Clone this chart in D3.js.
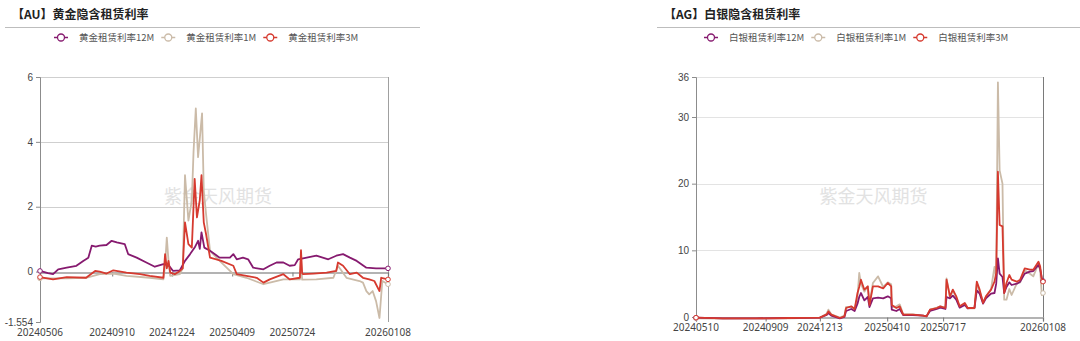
<!DOCTYPE html>
<html>
<head>
<meta charset="utf-8">
<title>隐含租赁利率</title>
<script src="https://cdn.jsdelivr.net/npm/d3@7"></script>
<style>
    body { margin: 0; background: #fff; }
    svg { display: block; font-family: "Noto Sans", "Noto Sans CJK SC", sans-serif; }
    .title { font-family: "Noto Sans CJK SC", sans-serif; font-size: 12px; font-weight: bold; fill: #222; }
    .legendText { font-family: "Noto Sans CJK SC", sans-serif; font-size: 9.5px; fill: #555; }
    .tick text { font-size: 10px; fill: #444; }
    .watermark { font-family: "Noto Sans CJK SC", sans-serif; font-size: 18px; fill: #e2e2e2; text-anchor: middle; }
</style>
</head>
<body>
<script>
// ---- data ----
const seriesNames = ["12M", "1M", "3M"];
const seriesColors = ["#861a6f", "#cbbba8", "#d63a2f"];

const auTicks = ["20240506", "20240910", "20241224", "20250409", "20250724", "20260108"];
const auYTicks = [-1.554, 0, 2, 4, 6];

const au12M = [["20240506",0.02],["20240520",-0.05],["20240529",-0.08],["20240607",0.07],["20240622",0.12],["20240709",0.18],["20240721",0.33],["20240730",0.43],["20240805",0.8],["20240812",0.77],["20240819",0.8],["20240831",0.82],["20240909",0.95],["20240918",0.9],["20241002",0.85],["20241008",0.54],["20241023",0.43],["20241109",0.28],["20241124",0.15],["20241209",0.23],["20241218",0.2],["20241226",0.02],["20250107",0.04],["20250116",0.33],["20250125",0.54],["20250202",0.74],["20250208",0.95],["20250211",0.7],["20250214",1.21],["20250219",0.74],["20250301",0.64],["20250309",0.54],["20250318",0.43],["20250405",0.43],["20250411",0.54],["20250417",0.38],["20250428",0.43],["20250507",0.38],["20250516",0.12],["20250603",0.07],["20250614",0.18],["20250626",0.28],["20250708",0.28],["20250719",0.18],["20250728",0.2],["20250803",0.38],["20250818",0.43],["20250904",0.49],["20250925",0.38],["20251009",0.49],["20251021",0.54],["20251102",0.43],["20251114",0.33],["20251201",0.12],["20251218",0.1],["20260108",0.1]];
const au1M = [["20240506",-0.21],["20240622",-0.21],["20240726",-0.19],["20240819",-0.08],["20240912",-0.06],["20241005",-0.13],["20241115",-0.19],["20241209",-0.24],["20241212",0.2],["20241215",1.05],["20241218",0.33],["20241221",-0.13],["20250107",-0.08],["20250112",0.1],["20250116",2.97],["20250122",1.57],["20250128",2.19],["20250131",3.69],["20250204",5.03],["20250208",3.53],["20250211",4.1],["20250215",4.88],["20250218",2.5],["20250222",1.78],["20250301",0.64],["20250318",0.33],["20250411",-0.08],["20250504",-0.19],["20250603",-0.39],["20250708",-0.24],["20250806",-0.24],["20250808",0.4],["20250810",-0.25],["20250904",-0.24],["20251004",-0.19],["20251012",0.18],["20251027",-0.19],["20251119",-0.29],["20251125",-0.34],["20251201",-0.6],["20251206",-0.7],["20251212",-0.6],["20251218",-0.91],["20251224",-1.43],["20251229",-0.29],["20260108",-0.39]];
const au3M = [["20240506",-0.17],["20240529",-0.24],["20240622",-0.17],["20240726",-0.19],["20240811",0.02],["20240819",0],["20240831",-0.06],["20240912",0.04],["20241005",-0.03],["20241029",-0.08],["20241115",-0.13],["20241209",-0.19],["20241212",0.54],["20241215",0.1],["20241218",0.33],["20241221",-0.03],["20241229",-0.08],["20250107",0.02],["20250112",0.1],["20250116",1.52],["20250122",0.85],["20250128",0.74],["20250202",2.86],["20250206",1.67],["20250211",2.2],["20250214",2.97],["20250218",1.52],["20250222",1.16],["20250301",0.43],["20250312",0.38],["20250321",0.33],["20250411",0.18],["20250417",-0.08],["20250504",-0.13],["20250522",-0.19],["20250603",-0.34],["20250614",-0.24],["20250708",-0.08],["20250719",-0.24],["20250806",-0.19],["20250808",0.66],["20250810",-0.05],["20250812",-0.08],["20250830",-0.06],["20250922",-0.03],["20251009",0.02],["20251012",0.28],["20251021",0.18],["20251102",-0.08],["20251114",-0.03],["20251125",-0.19],["20251206",-0.24],["20251215",-0.29],["20251224",-0.6],["20251227",-0.19],["20260108",-0.24]];

const agTicks = ["20240510", "20240909", "20241213", "20250410", "20250717", "20260108"];
const agYTicks = [0, 10, 20, 30, 36];

const ag12M = [["20240510",-0.1],["20240626",-0.2],["20240824",-0.2],["20241021",-0.15],["20241213",-0.1],["20241225",0.3],["20241228",0.6],["20250102",0.2],["20250117",-0.2],["20250125",0.0],["20250128",0.9],["20250206",1.2],["20250212",0.9],["20250217",2.0],["20250220",3.0],["20250223",3.6],["20250301",2.5],["20250307",3.0],["20250310",1.5],["20250316",2.8],["20250325",2.9],["20250403",2.8],["20250411",3.1],["20250417",2.8],["20250418",1.1],["20250426",0.9],["20250502",1.2],["20250508",0.3],["20250525",0.3],["20250612",0.2],["20250618",0.1],["20250624",0.9],["20250706",1.2],["20250712",1.4],["20250721",1.2],["20250723",3.0],["20250729",2.8],["20250803",3.2],["20250809",2.6],["20250815",1.4],["20250824",1.8],["20250829",1.3],["20250910",1.4],["20250914",4.0],["20250919",3.5],["20250925",2.0],["20250930",2.8],["20251009",3.5],["20251015",3.6],["20251018",5.0],["20251021",8.8],["20251024",6.5],["20251029",6.0],["20251101",3.6],["20251105",4.5],["20251110",5.2],["20251114",4.8],["20251123",5.0],["20251129",5.3],["20251207",6.5],["20251216",6.8],["20251222",6.9],["20251231",7.8],["20260103",7.2],["20260106",5.8],["20260108",5.4]];
const ag1M = [["20240510",-0.2],["20240626",-0.25],["20240824",-0.2],["20241021",-0.2],["20241213",-0.1],["20241225",0.5],["20241228",1.1],["20250102",0.4],["20250117",-0.1],["20250125",0.2],["20250128",1.5],["20250206",1.5],["20250212",1.2],["20250217",3.0],["20250220",6.6],["20250223",5.0],["20250301",3.8],["20250307",4.6],["20250310",2.0],["20250316",5.1],["20250325",6.1],["20250403",4.5],["20250411",5.2],["20250417",4.9],["20250418",1.5],["20250426",1.6],["20250502",1.9],["20250508",0.4],["20250525",0.4],["20250612",0.2],["20250618",0.1],["20250624",1.1],["20250706",1.4],["20250712",1.6],["20250721",1.4],["20250723",5.8],["20250729",2.9],["20250803",4.0],["20250809",2.9],["20250815",1.5],["20250824",2.0],["20250829",1.3],["20250910",1.3],["20250914",5.0],["20250919",3.8],["20250925",2.3],["20250930",3.0],["20251009",4.2],["20251015",7.5],["20251018",5.8],["20251021",35.2],["20251024",22],["20251029",20],["20251101",2.6],["20251105",2.6],["20251110",4.2],["20251114",3.3],["20251123",5.0],["20251129",5.2],["20251207",7.0],["20251216",6.5],["20251222",6.1],["20251231",8.0],["20260103",7.0],["20260106",3.3],["20260108",3.6]];
const ag3M = [["20240510",-0.1],["20240626",-0.2],["20240824",-0.2],["20241021",-0.15],["20241213",-0.1],["20241225",0.4],["20241228",0.85],["20250102",0.35],["20250117",-0.15],["20250125",0.1],["20250128",1.35],["20250206",1.6],["20250212",1.2],["20250217",3.6],["20250220",4.5],["20250223",5.6],["20250301",4.1],["20250307",4.6],["20250310",1.8],["20250316",4.6],["20250325",4.6],["20250403",4.3],["20250411",5.1],["20250417",4.6],["20250418",1.8],["20250426",1.35],["20250502",1.6],["20250508",0.35],["20250525",0.35],["20250612",0.2],["20250618",0.1],["20250624",1.1],["20250706",1.35],["20250712",1.6],["20250721",1.35],["20250723",5.6],["20250729",3.1],["20250803",4.1],["20250809",3.1],["20250815",1.6],["20250824",2.1],["20250829",1.35],["20250910",1.35],["20250914",5.3],["20250919",4.1],["20250925",2.1],["20250930",3.1],["20251009",4.1],["20251015",5.3],["20251018",6.6],["20251021",21.8],["20251024",13.8],["20251029",13.6],["20251101",3.6],["20251105",5.1],["20251110",6.3],["20251114",5.6],["20251123",5.3],["20251129",5.6],["20251207",7.3],["20251216",7.1],["20251222",7.1],["20251231",8.3],["20260103",7.6],["20260106",5.6],["20260108",5.3]];

// ---- drawing ----
const parse = d3.timeParse("%Y%m%d");
const fmt = d3.timeFormat("%Y%m%d");
const svg = d3.select("body").append("svg").attr("width", 1080).attr("height", 341);

function drawChart(cfg) {
    const g = svg.append("g");
    const x = d3.scaleTime()
        .domain([parse(cfg.ticks[0]), parse(cfg.ticks[cfg.ticks.length - 1])])
        .range([cfg.left, cfg.right]);
    const y = d3.scaleLinear().domain(cfg.yDomain).range([cfg.bottom, cfg.top]);

    // title + rule
    g.append("text").attr("class", "title").attr("x", cfg.titleX).attr("y", 19).text(cfg.title);
    g.append("line").attr("x1", cfg.ruleX1).attr("x2", cfg.ruleX2).attr("y1", 27.5).attr("y2", 27.5)
        .attr("stroke", "#bdbdbd");

    // legend
    let cx = cfg.legendX;
    const order = [0, 1, 2];
    order.forEach(i => {
        const item = g.append("g");
        item.append("line").attr("x1", cx - 7).attr("x2", cx + 7).attr("y1", 37.5).attr("y2", 37.5)
            .attr("stroke", seriesColors[i]).attr("stroke-width", 1.5);
        item.append("circle").attr("cx", cx).attr("cy", 37.5).attr("r", 3.5)
            .attr("fill", "#fff").attr("stroke", seriesColors[i]).attr("stroke-width", 1.3);
        const t = item.append("text").attr("class", "legendText").attr("x", cx + 18).attr("y", 41)
            .text(cfg.legendPrefix + seriesNames[i]);
        cx = cx + 18 + t.node().getComputedTextLength() + 14;
    });

    // grid
    g.selectAll(".grid").data(cfg.yTicks.filter(v => v > 0)).enter().append("line")
        .attr("x1", cfg.left).attr("x2", cfg.right)
        .attr("y1", d => Math.round(y(d)) + 0.5).attr("y2", d => Math.round(y(d)) + 0.5)
        .attr("stroke", cfg.gridColor);

    // watermark
    g.append("text").attr("class", "watermark").attr("x", (cfg.left + cfg.right) / 2 + cfg.wmShift)
        .attr("y", 203).text("紫金天风期货");

    // y axis
    const yAxis = g.append("g").attr("transform", `translate(${cfg.left},0)`)
        .call(d3.axisLeft(y).tickValues(cfg.yTicks).tickSize(4).tickPadding(3)
            .tickFormat(d => d === cfg.yDomain[0] && d !== 0 ? String(d) : d3.format("d")(d)));
    yAxis.select(".domain").attr("stroke", "#8c8c8c");
    yAxis.selectAll(".tick line").attr("stroke", "#8c8c8c");

    // right border
    g.append("line").attr("x1", cfg.right + 0.5).attr("x2", cfg.right + 0.5)
        .attr("y1", cfg.top).attr("y2", cfg.bottom).attr("stroke", cfg.borderColor);

    // x axis at zero
    const xAxis = g.append("g").attr("transform", `translate(0,${Math.round(y(0)) + 0.5})`)
        .call(d3.axisBottom(x).tickValues(cfg.ticks.map(parse)).tickSize(4).tickFormat(() => ""));
    xAxis.select(".domain").attr("stroke", "#9a9a9a").attr("stroke-width", 1.3);
    xAxis.selectAll(".tick line").attr("stroke", "#777");

    // x labels at the bottom
    g.selectAll(".xl").data(cfg.ticks).enter().append("text")
        .attr("x", d => x(parse(d))).attr("y", cfg.bottom + 14)
        .attr("text-anchor", "middle").attr("font-size", 10).attr("fill", "#444")
        .text(d => d);

    // lines
    const line = d3.line().x(d => x(parse(d[0]))).y(d => y(d[1]));
    const drawOrder = [1, 0, 2];
    drawOrder.forEach(i => {
        const data = cfg.series[i];
        g.append("path").datum(data).attr("d", line).attr("fill", "none")
            .attr("stroke", seriesColors[i]).attr("stroke-width", 1.8).attr("stroke-linejoin", "round");
        g.selectAll(null).data([data[0], data[data.length - 1]]).enter().append("circle")
            .attr("cx", d => x(parse(d[0]))).attr("cy", d => y(d[1])).attr("r", 2.3)
            .attr("fill", "#fff").attr("stroke", seriesColors[i]).attr("stroke-width", 1);
    });
}

drawChart({
    title: "【AU】黄金隐含租赁利率", titleX: 12, ruleX1: 5, ruleX2: 420,
    legendX: 61, legendPrefix: "黄金租赁利率",
    left: 40, right: 388, top: 77, bottom: 322,
    yDomain: [-1.554, 6], yTicks: auYTicks, ticks: auTicks,
    gridColor: "#cfcfcf", borderColor: "#a0a0a0", wmShift: 4,
    series: [au12M, au1M, au3M]
});

drawChart({
    title: "【AG】白银隐含租赁利率", titleX: 664, ruleX1: 657, ruleX2: 1080,
    legendX: 711, legendPrefix: "白银租赁利率",
    left: 696, right: 1043, top: 77, bottom: 317,
    yDomain: [0, 36], yTicks: agYTicks, ticks: agTicks,
    gridColor: "#e3e3e3", borderColor: "#7a7a7a", wmShift: 4,
    series: [ag12M, ag1M, ag3M]
});
</script>
</body>
</html>
